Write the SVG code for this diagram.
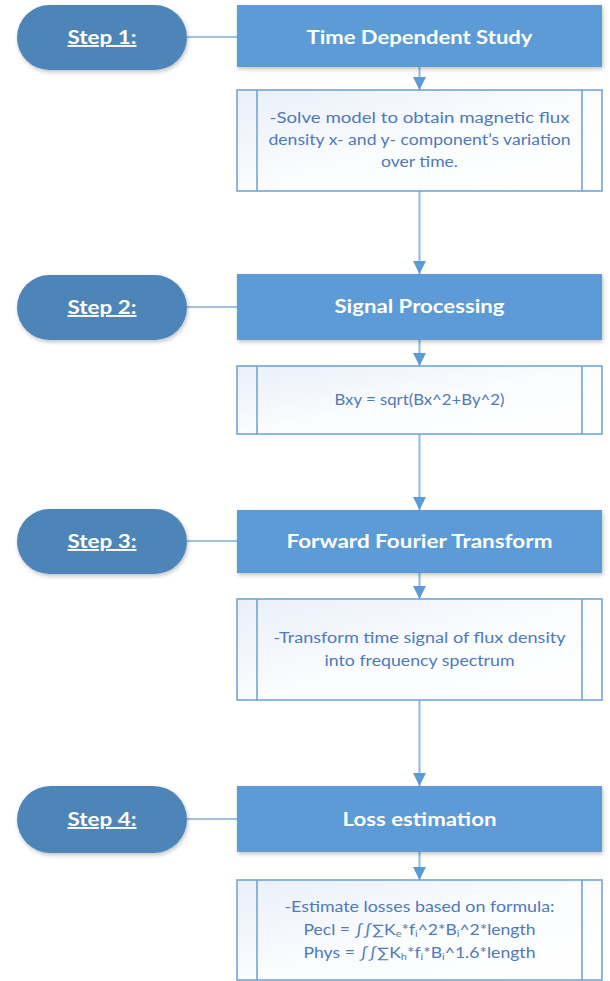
<svg xmlns="http://www.w3.org/2000/svg" width="610" height="981" viewBox="0 0 610 981">
  <defs>
    <style>
      .pill { fill: #4E85B8; }
      .title { fill: #5B9BD5; }
      .detail { fill: url(#detailFill); stroke: #6A9FD6; stroke-width: 1.5; }
      .strip { fill: none; stroke: #6A9FD6; stroke-width: 1.5; }
      .link { stroke: #9DC3E6; stroke-width: 2; fill: none; }
      .flow { stroke: #8DB8E2; stroke-width: 2; fill: none; marker-end: url(#arrow); }
      .step { font-family: Lato, "Open Sans", sans-serif; font-weight: bold; font-size: 19px; fill: #FFFFFF; text-anchor: middle; text-decoration: underline; }
      .head { font-family: Lato, "Open Sans", sans-serif; font-weight: bold; font-size: 19px; fill: #FFFFFF; text-anchor: middle; }
      .body { font-family: Lato, "Open Sans", sans-serif; font-size: 14.5px; fill: #4F79B8; text-anchor: middle; }
      .sub { font-size: 9px; }
    </style>
    <linearGradient id="detailFill" x1="0" y1="0" x2="1" y2="1">
      <stop offset="0" stop-color="#E9F0F9"/>
      <stop offset="0.5" stop-color="#FAFCFE"/>
      <stop offset="1" stop-color="#FFFFFF"/>
    </linearGradient>
    <filter id="shadow" x="-10%" y="-20%" width="125%" height="150%">
      <feGaussianBlur in="SourceAlpha" stdDeviation="2"/>
      <feOffset dx="1" dy="2" result="b"/>
      <feComponentTransfer><feFuncA type="linear" slope="0.25"/></feComponentTransfer>
      <feMerge><feMergeNode/><feMergeNode in="SourceGraphic"/></feMerge>
    </filter>
    <marker id="arrow" markerUnits="userSpaceOnUse" viewBox="0 0 13 13" refX="13" refY="6.5" markerWidth="13" markerHeight="13" orient="auto">
      <path d="M0,0 L13,6.5 L0,13 z" fill="#5B9BD5"/>
    </marker>
  </defs>

  <rect width="610" height="981" fill="#FFFFFF"/>

  <!-- connectors -->
  <g id="connectors">
    <line class="link" x1="187" y1="37" x2="237" y2="37"/>
    <line class="link" x1="187" y1="307" x2="237" y2="307"/>
    <line class="link" x1="187" y1="541" x2="237" y2="541"/>
    <line class="link" x1="187" y1="819" x2="237" y2="819"/>
    <line class="flow" x1="419.5" y1="67" x2="419.5" y2="90"/>
    <line class="flow" x1="419.5" y1="191" x2="419.5" y2="274"/>
    <line class="flow" x1="419.5" y1="340" x2="419.5" y2="366"/>
    <line class="flow" x1="419.5" y1="434" x2="419.5" y2="510"/>
    <line class="flow" x1="419.5" y1="573" x2="419.5" y2="599"/>
    <line class="flow" x1="419.5" y1="700" x2="419.5" y2="786"/>
    <line class="flow" x1="419.5" y1="852" x2="419.5" y2="880"/>
  </g>

  <!-- step markers -->
  <g id="step1">
    <rect class="pill" x="17" y="5" width="170" height="65" rx="32.5" filter="url(#shadow)"/>
    <text class="step" x="102" y="44" textLength="69" lengthAdjust="spacingAndGlyphs">Step 1:</text>
  </g>
  <g id="step2">
    <rect class="pill" x="17" y="275" width="170" height="65" rx="32.5" filter="url(#shadow)"/>
    <text class="step" x="102" y="314" textLength="69" lengthAdjust="spacingAndGlyphs">Step 2:</text>
  </g>
  <g id="step3">
    <rect class="pill" x="17" y="509" width="170" height="65" rx="32.5" filter="url(#shadow)"/>
    <text class="step" x="102" y="548" textLength="69" lengthAdjust="spacingAndGlyphs">Step 3:</text>
  </g>
  <g id="step4">
    <rect class="pill" x="17" y="786" width="170" height="67" rx="33.5" filter="url(#shadow)"/>
    <text class="step" x="102" y="826" textLength="69" lengthAdjust="spacingAndGlyphs">Step 4:</text>
  </g>

  <!-- process headers -->
  <g id="time-study">
    <rect class="title" x="237" y="5" width="365" height="62" filter="url(#shadow)"/>
    <text class="head" x="419.5" y="44" textLength="226" lengthAdjust="spacingAndGlyphs">Time Dependent Study</text>
  </g>
  <g id="signal-processing">
    <rect class="title" x="237" y="274" width="365" height="66" filter="url(#shadow)"/>
    <text class="head" x="419.5" y="313" textLength="170" lengthAdjust="spacingAndGlyphs">Signal Processing</text>
  </g>
  <g id="fourier-transform">
    <rect class="title" x="237" y="510" width="365" height="63" filter="url(#shadow)"/>
    <text class="head" x="419.5" y="548" textLength="266" lengthAdjust="spacingAndGlyphs">Forward Fourier Transform</text>
  </g>
  <g id="loss-estimation">
    <rect class="title" x="237" y="786" width="365" height="66" filter="url(#shadow)"/>
    <text class="head" x="419.5" y="826" textLength="154" lengthAdjust="spacingAndGlyphs">Loss estimation</text>
  </g>

  <!-- predefined-process details -->
  <g id="solve-model">
    <rect class="detail" x="237" y="90" width="365" height="101"/>
    <line class="strip" x1="257" y1="90" x2="257" y2="191"/>
    <line class="strip" x1="582" y1="90" x2="582" y2="191"/>
    <text class="body" x="419.5" y="123" textLength="300" lengthAdjust="spacingAndGlyphs">-Solve model to obtain  magnetic flux</text>
    <text class="body" x="419.5" y="145" textLength="302" lengthAdjust="spacingAndGlyphs">density x- and y- component’s variation</text>
    <text class="body" x="419.5" y="167" textLength="77" lengthAdjust="spacingAndGlyphs">over time.</text>
  </g>
  <g id="magnitude">
    <rect class="detail" x="237" y="366" width="365" height="68"/>
    <line class="strip" x1="257" y1="366" x2="257" y2="434"/>
    <line class="strip" x1="582" y1="366" x2="582" y2="434"/>
    <text class="body" x="419.5" y="405" textLength="170" lengthAdjust="spacingAndGlyphs">Bxy = sqrt(Bx^2+By^2)</text>
  </g>
  <g id="spectrum">
    <rect class="detail" x="237" y="599" width="365" height="101"/>
    <line class="strip" x1="257" y1="599" x2="257" y2="700"/>
    <line class="strip" x1="582" y1="599" x2="582" y2="700"/>
    <text class="body" x="419.5" y="643" textLength="292" lengthAdjust="spacingAndGlyphs">-Transform time signal of flux density</text>
    <text class="body" x="419.5" y="666" textLength="190" lengthAdjust="spacingAndGlyphs">into frequency spectrum</text>
  </g>
  <g id="losses">
    <rect class="detail" x="237" y="880" width="365" height="100"/>
    <line class="strip" x1="257" y1="880" x2="257" y2="980"/>
    <line class="strip" x1="582" y1="880" x2="582" y2="980"/>
    <text class="body" x="419.5" y="912" textLength="270" lengthAdjust="spacingAndGlyphs">-Estimate losses based on formula:</text>
    <text class="body" x="419.5" y="935" textLength="232" lengthAdjust="spacingAndGlyphs">Pecl = ∫∫∑K<tspan class="sub" dy="2">e</tspan><tspan dy="-2">*f</tspan><tspan class="sub" dy="2">i</tspan><tspan dy="-2">^2*B</tspan><tspan class="sub" dy="2">i</tspan><tspan dy="-2">^2*length</tspan></text>
    <text class="body" x="419.5" y="958" textLength="232" lengthAdjust="spacingAndGlyphs">Phys = ∫∫∑K<tspan class="sub" dy="2">h</tspan><tspan dy="-2">*f</tspan><tspan class="sub" dy="2">i</tspan><tspan dy="-2">*B</tspan><tspan class="sub" dy="2">i</tspan><tspan dy="-2">^1.6*length</tspan></text>
  </g>
</svg>
